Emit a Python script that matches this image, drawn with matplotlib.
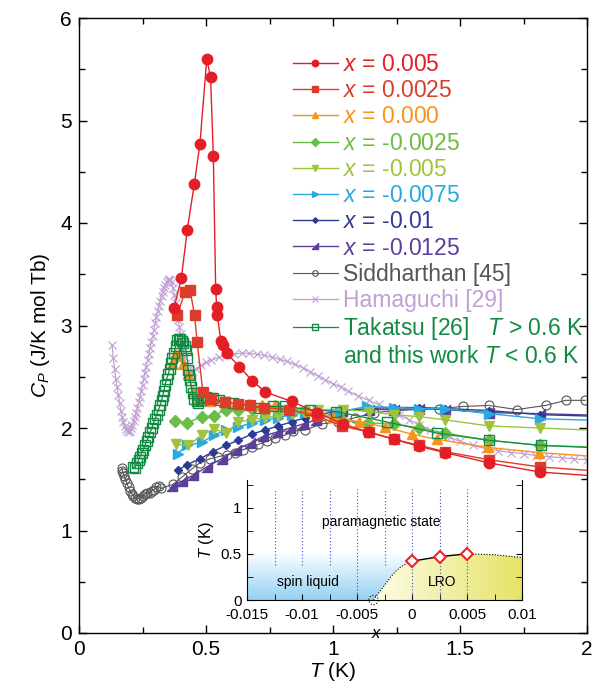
import numpy as np
import matplotlib
matplotlib.use("Agg")
import matplotlib.pyplot as plt
from matplotlib.path import Path
from matplotlib.patches import Polygon
from matplotlib.lines import Line2D
from matplotlib.ticker import MultipleLocator

plt.rcParams["font.family"] = ["Liberation Sans", "DejaVu Sans"]
plt.rcParams["mathtext.fontset"] = "custom"
plt.rcParams["mathtext.rm"] = "Liberation Sans"
plt.rcParams["mathtext.it"] = "Liberation Sans:italic"

# ---- specific heat data, T in K, Cp in J/K mol Tb ----
T_p005 = [0.374, 0.403, 0.426, 0.454, 0.476, 0.503, 0.518, 0.529, 0.538, 0.542, 0.545, 0.558, 0.568,
          0.581, 0.631, 0.682, 0.734, 0.837, 0.936, 1.038, 1.139, 1.241, 1.34, 1.441, 1.614, 1.815, 2.1]
C_p005 = [3.17, 3.46, 3.93, 4.38, 4.77, 5.60, 5.42, 4.65, 3.36, 3.18, 3.10, 2.85, 2.81,
          2.73, 2.60, 2.46, 2.35, 2.26, 2.15, 2.04, 1.96, 1.89, 1.82, 1.76, 1.66, 1.57, 1.52]

T_p0025 = [0.387, 0.417, 0.437, 0.455, 0.465, 0.488, 0.52, 0.575, 0.625, 0.673, 0.73, 0.827, 0.936,
           1.034, 1.142, 1.241, 1.34, 1.441, 1.614, 1.815, 2.1]
C_p0025 = [3.10, 3.33, 3.35, 3.10, 2.84, 2.35, 2.28, 2.25, 2.23, 2.22, 2.20, 2.18, 2.12,
           2.02, 1.96, 1.89, 1.83, 1.77, 1.69, 1.62, 1.57]

T_0 = [0.365, 0.378, 0.39, 0.41, 0.43, 0.447, 0.47, 0.516, 0.57, 0.62, 0.67, 0.72, 0.77, 0.83,
       0.90, 1.0, 1.104, 1.205, 1.31, 1.408, 1.611, 1.812, 2.1]
C_0 = [2.62, 2.72, 2.70, 2.62, 2.53, 2.36, 2.27, 2.26, 2.25, 2.24, 2.23, 2.22, 2.22, 2.20,
       2.17, 2.11, 2.06, 2.01, 1.94, 1.89, 1.81, 1.76, 1.71]

T_m0025 = [0.378, 0.426, 0.483, 0.531, 0.578, 0.627, 0.68, 0.732, 0.785, 0.837, 0.89, 0.94,
           1.038, 1.139, 1.241, 1.34, 1.44, 1.614, 1.815, 2.1]
C_m0025 = [2.07, 2.05, 2.11, 2.12, 2.18, 2.18, 2.19, 2.19, 2.20, 2.19, 2.17, 2.14,
           2.07, 2.05, 2.04, 2.00, 1.95, 1.88, 1.83, 1.81]

T_m005 = [0.382, 0.43, 0.483, 0.531, 0.578, 0.627, 0.68, 0.732, 0.785, 0.837, 0.89, 0.94,
          1.04, 1.14, 1.241, 1.34, 1.44, 1.614, 1.815, 2.1]
C_m005 = [1.84, 1.83, 1.93, 1.99, 1.95, 2.06, 2.08, 2.10, 2.12, 2.14, 2.16, 2.18,
          2.18, 2.16, 2.13, 2.11, 2.08, 2.02, 2.00, 1.97]

T_m0075 = [0.388, 0.426, 0.483, 0.531, 0.578, 0.627, 0.68, 0.732, 0.785, 0.837, 0.89, 0.942,
           1.028, 1.133, 1.24, 1.34, 1.44, 1.614, 1.815, 2.1]
C_m0075 = [1.75, 1.83, 1.86, 1.93, 1.98, 2.01, 2.05, 2.08, 2.10, 2.13, 2.15, 2.18,
           2.16, 2.21, 2.20, 2.19, 2.19, 2.14, 2.09, 2.07]

T_m01 = [0.391, 0.424, 0.476, 0.529, 0.578, 0.627, 0.68, 0.732, 0.785, 0.837, 0.89, 0.94,
         1.04, 1.14, 1.24, 1.34, 1.44, 1.614, 1.815, 2.1]
C_m01 = [1.59, 1.64, 1.70, 1.77, 1.83, 1.88, 1.94, 1.98, 2.02, 2.06, 2.10, 2.13,
         2.17, 2.19, 2.20, 2.20, 2.19, 2.17, 2.13, 2.11]

T_m0125 = [0.365, 0.404, 0.45, 0.503, 0.562, 0.62, 0.673, 0.726, 0.778, 0.831, 0.883, 0.935,
           1.034, 1.14, 1.24, 1.34, 1.44, 1.614, 1.815, 2.1]
C_m0125 = [1.43, 1.48, 1.54, 1.62, 1.70, 1.79, 1.85, 1.92, 1.96, 2.00, 2.04, 2.08,
           2.17, 2.18, 2.18, 2.19, 2.18, 2.15, 2.14, 2.12]

T_sidd = [0.168, 0.171, 0.174, 0.178, 0.183, 0.189, 0.195, 0.201, 0.207, 0.214, 0.221, 0.228,
          0.235, 0.243, 0.251, 0.26, 0.269, 0.278, 0.287, 0.296, 0.305, 0.314, 0.323, 0.37,
          0.405, 0.444, 0.476, 0.516, 0.549, 0.581, 0.614, 0.647, 0.68, 0.706, 0.739, 0.772,
          0.811, 0.844, 0.89, 0.955, 1.021, 1.087, 1.161, 1.244, 1.34, 1.419, 1.513, 1.614,
          1.723, 1.837, 1.917, 1.993]
C_sidd = [1.61, 1.58, 1.56, 1.53, 1.50, 1.46, 1.42, 1.39, 1.36, 1.34, 1.32, 1.31,
          1.31, 1.32, 1.34, 1.36, 1.37, 1.37, 1.39, 1.40, 1.42, 1.43, 1.41, 1.45,
          1.52, 1.60, 1.66, 1.70, 1.72, 1.74, 1.76, 1.79, 1.81, 1.84, 1.87, 1.90,
          1.93, 1.97, 1.98, 2.04, 2.06, 2.10, 2.15, 2.17, 2.18, 2.19, 2.21, 2.22,
          2.18, 2.22, 2.27, 2.27]

T_hama = [0.13, 0.135, 0.14, 0.145, 0.15, 0.155, 0.16, 0.165, 0.17, 0.175, 0.18, 0.185,
          0.19, 0.195, 0.20, 0.205, 0.21, 0.215, 0.22, 0.225, 0.23, 0.235, 0.24, 0.245,
          0.25, 0.255, 0.26, 0.265, 0.27, 0.275, 0.28, 0.285, 0.29, 0.295, 0.30, 0.305,
          0.31, 0.315, 0.32, 0.325, 0.33, 0.335, 0.34, 0.345, 0.35, 0.355, 0.36, 0.365,
          0.37, 0.375, 0.38, 0.385, 0.39, 0.395, 0.40, 0.405, 0.41, 0.415, 0.42, 0.43,
          0.44, 0.45, 0.46, 0.48, 0.50, 0.52, 0.55, 0.58, 0.61, 0.64, 0.67, 0.70,
          0.73, 0.76, 0.79, 0.82, 0.85, 0.88, 0.91, 0.94, 0.97, 1.00, 1.03, 1.06,
          1.10, 1.14, 1.18, 1.22, 1.26, 1.30, 1.34, 1.38, 1.42, 1.46, 1.50, 1.55,
          1.60, 1.65, 1.70, 1.75, 1.80, 1.85, 1.90, 1.95, 2.00]
C_hama = [2.81, 2.68, 2.58, 2.48, 2.40, 2.32, 2.24, 2.17, 2.11, 2.06, 2.02, 1.99,
          1.97, 1.96, 1.97, 2.00, 2.03, 2.07, 2.11, 2.15, 2.20, 2.25, 2.30, 2.36,
          2.42, 2.48, 2.54, 2.60, 2.66, 2.72, 2.78, 2.84, 2.90, 2.96, 3.02, 3.08,
          3.14, 3.19, 3.24, 3.29, 3.33, 3.37, 3.40, 3.42, 3.44, 3.45, 3.44, 3.42,
          3.37, 3.30, 3.22, 3.13, 3.05, 2.99, 2.92, 2.84, 2.76, 2.69, 2.63, 2.57,
          2.55, 2.56, 2.58, 2.61, 2.64, 2.66, 2.69, 2.71, 2.72, 2.73, 2.73, 2.72,
          2.71, 2.69, 2.67, 2.65, 2.62, 2.59, 2.55, 2.51, 2.47, 2.43, 2.40, 2.36,
          2.31, 2.27, 2.23, 2.18, 2.13, 2.08, 2.03, 1.98, 1.94, 1.91, 1.87, 1.83,
          1.80, 1.78, 1.76, 1.75, 1.73, 1.72, 1.71, 1.70, 1.69]

T_taka = [0.214, 0.22, 0.228, 0.235, 0.24, 0.247, 0.253, 0.26, 0.266, 0.273, 0.28, 0.287,
          0.293, 0.30, 0.306, 0.313, 0.319, 0.325, 0.329, 0.334, 0.339, 0.345, 0.352, 0.357,
          0.361, 0.368, 0.374, 0.38, 0.387, 0.393, 0.398, 0.404, 0.411, 0.416, 0.421, 0.426,
          0.43, 0.434, 0.437, 0.442, 0.447, 0.452, 0.463, 0.47, 0.479, 0.489, 0.50, 0.516,
          0.529, 0.55, 0.575, 0.607, 0.71, 0.762, 0.811, 0.909, 1.012, 1.211, 1.411, 1.614,
          1.818, 2.1]
C_taka = [1.62, 1.61, 1.66, 1.69, 1.72, 1.76, 1.79, 1.83, 1.87, 1.91, 1.96, 2.00,
          2.05, 2.09, 2.13, 2.18, 2.22, 2.27, 2.31, 2.36, 2.42, 2.48, 2.53, 2.58,
          2.63, 2.68, 2.73, 2.80, 2.86, 2.87, 2.87, 2.85, 2.83, 2.80, 2.76, 2.68,
          2.57, 2.52, 2.47, 2.40, 2.34, 2.28, 2.26, 2.24, 2.27, 2.29, 2.30, 2.29,
          2.29, 2.27, 2.25, 2.24, 2.20, 2.21, 2.21, 2.18, 2.16, 2.06, 1.95, 1.88,
          1.83, 1.80]

# ---- phase diagram (inset) ----
x_lro = [0.0, 0.0025, 0.005]
T_lro = [0.42, 0.47, 0.50]
x_edge_left = [-0.0035, -0.003, -0.0025, -0.002, -0.0015, -0.001, -0.0005, 0.0]
T_edge_left = [0.0, 0.08, 0.16, 0.24, 0.31, 0.36, 0.395, 0.42]
x_edge_right = [0.005, 0.0075, 0.01]
T_edge_right = [0.50, 0.49, 0.46]
x_scan = [-0.0125, -0.01, -0.0075, -0.005, -0.0025, 0.0, 0.0025, 0.005]
T_scan_low = [0.38, 0.38, 0.38, 0.0, 0.38, 0.0, 0.0, 0.0]
T_scan_high = 1.2

fig = plt.figure(figsize=(5.94, 6.83), dpi=100)
ax = fig.add_axes([79 / 594, 50 / 683, 508 / 594, 615 / 683])

# right-angle triangle marker
tri_ur = Path([(-1, -1), (1, -1), (1, 1), (-1, -1)],
              [Path.MOVETO, Path.LINETO, Path.LINETO, Path.CLOSEPOLY])

lw = 1.0
c_taka = "#138a43"
ax.plot(T_hama, C_hama, color="#c29fd4", marker="x", ms=6, mew=0.8, lw=0.9,
        label="Hamaguchi [29]", zorder=1)
ax.plot(T_sidd, C_sidd, color="#555555", marker="o", ms=6.5, mfc="none", mew=0.8, lw=0.8,
        label="Siddharthan [45]", zorder=2)
ax.plot(T_m0125, C_m0125, color="#5b3f99", marker=tri_ur, ms=6.5, lw=lw,
        label="$x$ = -0.0125", zorder=3)
ax.plot(T_m01, C_m01, color="#2e3b92", marker="D", ms=4.5, lw=lw,
        label="$x$ = -0.01", zorder=3)
ax.plot(T_m0075, C_m0075, color="#27a9e1", marker=">", ms=7, lw=lw,
        label="$x$ = -0.0075", zorder=3)
ax.plot(T_m005, C_m005, color="#9fc33c", marker="v", ms=7, lw=lw,
        label="$x$ = -0.005", zorder=3)
ax.plot(T_m0025, C_m0025, color="#6abd45", marker="D", ms=6.5, lw=lw,
        label="$x$ = -0.0025", zorder=3)
ax.plot(T_0, C_0, color="#f7941d", marker="^", ms=7, lw=lw,
        label="$x$ = 0.000", zorder=4)
ax.plot(T_taka, C_taka, color=c_taka, marker="s", ms=7, mfc="none", mew=1.0, lw=0.9,
        label="Takatsu [26]   $T$ > 0.6 K", zorder=5)
ax.plot(T_p0025, C_p0025, color="#dc3d2a", marker="s", ms=7, lw=lw,
        label="$x$ = 0.0025", zorder=6)
ax.plot(T_p005, C_p005, color="#e31e26", marker="o", ms=7.5, lw=lw,
        label="$x$ = 0.005", zorder=7)

ax.set_xlim(0, 2)
ax.set_ylim(0, 6)
ax.set_xticks([0, 0.5, 1, 1.5, 2])
ax.set_xticklabels(["0", "0.5", "1", "1.5", "2"])
ax.set_yticks(range(7))
ax.xaxis.set_minor_locator(MultipleLocator(0.25))
ax.yaxis.set_minor_locator(MultipleLocator(0.5))
ax.tick_params(which="both", direction="in", top=True, right=True, labelsize=15, width=1)
ax.tick_params(which="major", length=6, pad=5)
ax.tick_params(which="minor", length=4)
for s in ax.spines.values():
    s.set_linewidth(1.0)
ax.set_xlabel("$T$ (K)", fontsize=15, labelpad=1)
ax.set_ylabel("$C_P$ (J/K mol Tb)", fontsize=15, labelpad=6)

handles, labels = ax.get_legend_handles_labels()
order = ["$x$ = 0.005", "$x$ = 0.0025", "$x$ = 0.000", "$x$ = -0.0025", "$x$ = -0.005",
         "$x$ = -0.0075", "$x$ = -0.01", "$x$ = -0.0125", "Siddharthan [45]",
         "Hamaguchi [29]", "Takatsu [26]   $T$ > 0.6 K"]
hmap = dict(zip(labels, handles))
leg_handles = [hmap[k] for k in order]
# second line of the Takatsu entry, without a handle of its own
leg_handles.append(Line2D([], [], color=c_taka, ls="none", marker=None))
order.append("and this work $T$ < 0.6 K")
ax.legend(leg_handles, order, loc="upper left",
          bbox_to_anchor=(0.421, 0.943), frameon=False, labelcolor="linecolor",
          fontsize=16.5, handlelength=1.95, handletextpad=0.25, labelspacing=0.14,
          markerscale=0.62, borderaxespad=0, borderpad=0)

# ---- inset: phase diagram ----
ai = fig.add_axes([247 / 594, 83 / 683, 275 / 594, 120 / 683])
ai.set_xlim(-0.015, 0.01)
ai.set_ylim(0, 1.3)

# spin liquid shading, fading upward
blue = np.zeros((100, 1, 4))
blue[..., 0] = 0.58
blue[..., 1] = 0.82
blue[..., 2] = 0.95
blue[:, 0, 3] = np.linspace(1.0, 0.0, 100)
sl_poly = Polygon(list(zip([-0.015] + x_edge_left + [-0.002, -0.015],
                           [0.0] + T_edge_left + [0.53, 0.53])), closed=True,
                  transform=ai.transData)
im_b = ai.imshow(blue, extent=(-0.015, 0.01, 0, 0.53), origin="lower", aspect="auto",
                 interpolation="bilinear", zorder=1)
im_b.set_clip_path(sl_poly)

# ordered phase shading, deepening to the right
yel = np.zeros((1, 100, 4))
yel[..., 0] = np.linspace(0.99, 0.90, 100)
yel[..., 1] = np.linspace(0.99, 0.89, 100)
yel[..., 2] = np.linspace(0.90, 0.40, 100)
yel[..., 3] = 1.0
dome_x = x_edge_left + x_lro[1:] + x_edge_right[1:] + [0.01]
dome_y = T_edge_left + T_lro[1:] + T_edge_right[1:] + [0.0]
dome = Polygon(list(zip(dome_x, dome_y)), closed=True, transform=ai.transData)
im_y = ai.imshow(yel, extent=(-0.0035, 0.01, 0, 0.52), origin="lower", aspect="auto",
                 interpolation="bilinear", zorder=1)
im_y.set_clip_path(dome)

for xs, tl in zip(x_scan, T_scan_low):
    ai.plot([xs, xs], [tl, T_scan_high], color="#3b4fc4", lw=0.8, ls=(0, (1, 2)), zorder=2)

ai.plot(x_edge_left, T_edge_left, color="black", lw=0.8, ls=(0, (1, 1.5)), zorder=3)
ai.plot(x_edge_right, T_edge_right, color="black", lw=0.8, ls=(0, (1, 1.5)), zorder=3)
ai.plot(x_lro, T_lro, color="black", lw=1.0, zorder=3)
ai.plot(x_lro, T_lro, ls="none", marker="D", ms=6, mfc="white", mec="#e8262c", mew=1.5,
        zorder=4)
ai.scatter([x_edge_left[0]], [T_edge_left[0]], s=45, facecolors="none", edgecolors="black",
           linewidths=0.8, linestyles=":", zorder=4, clip_on=False)

ai.text(-0.0028, 0.85, "paramagnetic state", fontsize=10, ha="center", va="center")
ai.text(-0.0095, 0.2, "spin liquid", fontsize=10, ha="center", va="center")
ai.text(0.0027, 0.2, "LRO", fontsize=10, ha="center", va="center")

ai.spines["top"].set_visible(False)
ai.set_xticks([-0.015, -0.01, -0.005, 0, 0.005, 0.01])
ai.set_xticklabels(["-0.015", "-0.01", "-0.005", "0", "0.005", "0.01"])
ai.set_yticks([0, 0.5, 1])
ai.set_yticklabels(["0", "0.5", "1"])
ai.xaxis.set_minor_locator(MultipleLocator(0.0025))
ai.yaxis.set_minor_locator(MultipleLocator(0.25))
ai.tick_params(which="both", direction="in", right=True, labelsize=11)
ai.tick_params(axis="x", pad=6)
ai.tick_params(axis="y", pad=4)
ai.tick_params(which="major", length=4)
ai.tick_params(which="minor", length=4)
ai.set_xlabel("$x$", fontsize=12, labelpad=-4)
ai.xaxis.set_label_coords(0.47, -0.22)
ai.set_ylabel("$T$ (K)", fontsize=12, labelpad=3)

fig.savefig("out.png", dpi=100)
